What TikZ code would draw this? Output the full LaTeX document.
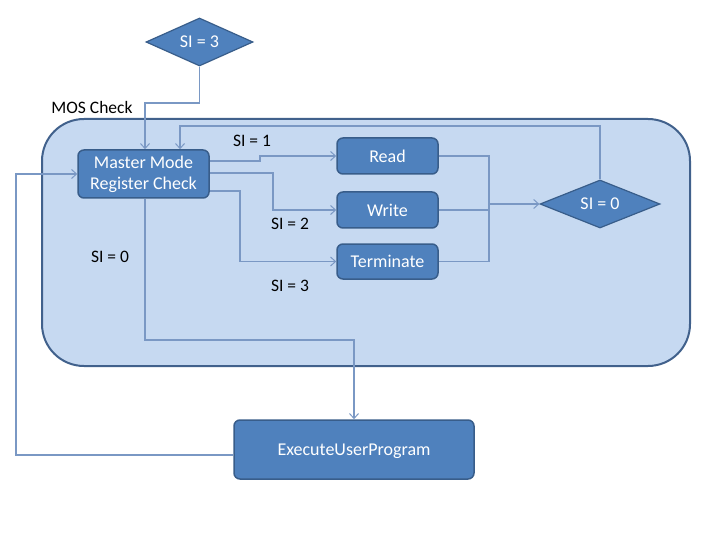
\documentclass[tikz,border=0pt]{standalone}
\usepackage{fontspec}
\setmainfont{Carlito}
\usetikzlibrary{shapes.geometric,arrows.meta}
\definecolor{contf}{RGB}{198,217,241}
\definecolor{contb}{RGB}{65,97,140}
\definecolor{nodef}{RGB}{79,129,189}
\definecolor{nodeb}{RGB}{56,93,138}
\definecolor{conn}{RGB}{122,152,196}
\begin{document}
\begin{tikzpicture}[x=1pt,y=-1pt,
  box/.style={draw=nodeb, line width=1.5pt, fill=nodef, rounded corners=6pt, text=white,
    font=\fontsize{18}{20}\selectfont, align=center, inner sep=0pt},
  dia/.style={diamond, draw=nodeb, line width=1.2pt, fill=nodef, text=white,
    font=\fontsize{18}{20}\selectfont, inner sep=0pt},
  lab/.style={font=\fontsize{17.5}{20}\selectfont, text=black, inner sep=0pt},
  line/.style={draw=conn, line width=1.1pt},
  arr/.style={line, -{Straight Barb[length=5pt,width=9pt,line width=1pt]}}
]
\useasboundingbox[fill=white] (0,0) rectangle (720,540);
\node[draw=contb, line width=2pt, fill=contf, rounded corners=42pt,
  minimum width=648pt, minimum height=247pt, inner sep=0pt] (cont) at (366,242.5) {};

\node[dia, minimum width=107pt, minimum height=48pt, aspect=2.2] (si3) at (199.5,42) {SI = 3};
\node[dia, minimum width=120pt, minimum height=48pt, aspect=2.5] (si0) at (600,204) {SI = 0};
\node[box, minimum width=131pt, minimum height=48pt] (master) at (143.5,174) {Master Mode\\[1pt]Register Check};
\node[box, minimum width=101pt, minimum height=36pt] (read) at (387.5,156) {Read};
\node[box, minimum width=101pt, minimum height=36pt] (write) at (387.5,210) {Write};
\node[box, minimum width=101pt, minimum height=35pt] (term) at (387.5,261.5) {Terminate};
\node[box, minimum width=240pt, minimum height=59pt, text depth=0pt, text height=12pt] (exec) at (354,449.5) {ExecuteUserProgram};

\node[lab] (mos) at (92,107) {MOS Check};
\node[lab] (l1) at (252,141) {SI = 1};
\node[lab] (l2) at (290,224) {SI = 2};
\node[lab] (l3) at (290,286) {SI = 3};
\node[lab] (l0) at (110,257) {SI = 0};

\draw[arr] (si3.south) -- (si3.south |- 0,103) -| (master.north -| 145,0);
\draw[arr] (si0.north) |- (180,126) -- (master.north -| 180,0);
\draw[arr] (master.east |- 0,161) -- (260,161) |- (read.west);
\draw[arr] (master.east |- 0,173) -- (273,173) |- (write.west);
\draw[arr] (master.east |- 0,191) -- (240,191) |- (term.west);
\draw[line] (read.east) -- (read.east -| 489,0) -- (term.east -| 489,0) -- (term.east);
\draw[line] (write.east) -- (write.east -| 489,0);
\draw[arr] (489,204) -- (si0.west);
\draw[arr] (master.south -| 145,0) -- (145,340) -| (exec.north);
\draw[arr] (exec.west |- 0,455) -| (16,174) -- (master.west);
\end{tikzpicture}
\end{document}
